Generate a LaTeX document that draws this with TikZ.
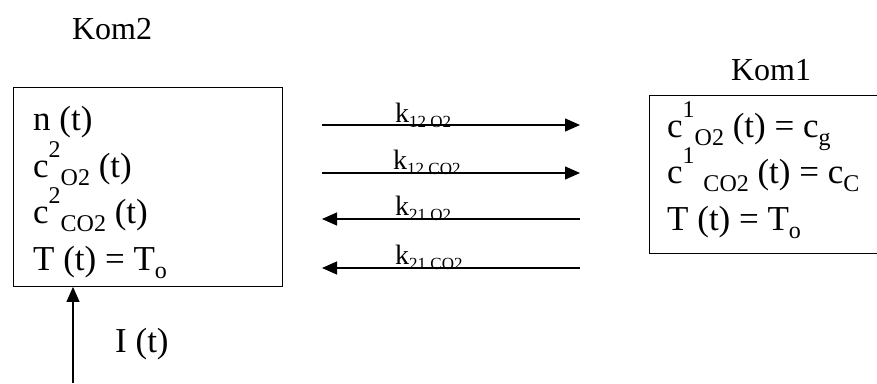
\documentclass[tikz,border=0pt]{standalone}
\usepackage{fontspec}
\setmainfont{Liberation Serif}
\usetikzlibrary{arrows.meta}
\newcommand{\sps}[1]{\raisebox{0.55em}{\fontsize{24}{24}\selectfont #1}}
\newcommand{\sbs}[1]{\raisebox{-0.25em}{\fontsize{24}{24}\selectfont #1}}
\newcommand{\ksub}[1]{\raisebox{-0.18em}{\fontsize{17}{17}\selectfont #1}}
\begin{document}
\begin{tikzpicture}[x=1pt,y=-1pt,
  box/.style={draw,line width=0.9pt},
  txt/.style={anchor=base west,inner sep=0pt,font=\fontsize{35}{35}\selectfont},
  klab/.style={anchor=base west,inner sep=0pt,font=\fontsize{28}{28}\selectfont},
  arr/.style={line width=1.2pt,-{Triangle[length=15pt,width=13pt]}}]
\useasboundingbox (0,0) rectangle (877,383);
% boxes
\node[box,minimum width=269pt,minimum height=199pt,anchor=north west,inner sep=0pt] (k2) at (13,87) {};
\node[box,minimum width=228pt,minimum height=158pt,anchor=north west,inner sep=0pt] (k1) at (649,95) {};
% titles
\node[anchor=base,inner sep=0pt,font=\fontsize{32}{32}\selectfont] (t2) at (112,39) {Kom2};
\node[anchor=base,inner sep=0pt,font=\fontsize{32}{32}\selectfont] (t1) at (771,80) {Kom1};
% left text
\node[txt] (a1) at (33,130) {n (t)};
\node[txt] (a2) at (33,177) {c\sps{2}\sbs{O2} (t)};
\node[txt] (a3) at (33,223) {c\sps{2}\sbs{CO2} (t)};
\node[txt] (a4) at (33,270) {T (t) = T\sbs{o}};
% right text
\node[txt] (b1) at (667,137) {c\sps{1}\sbs{O2} (t) = c\sbs{g}};
\node[txt] (b2) at (667,183) {c\sps{1} \sbs{CO2} (t) = c\sbs{C}};
\node[txt] (b3) at (667,230) {T (t) = T\sbs{o}};
% arrows
\coordinate (l1) at (322,125); \coordinate (r1) at (580,125);
\coordinate (l2) at (322,173); \coordinate (r2) at (580,173);
\coordinate (l3) at (322,219); \coordinate (r3) at (580,219);
\coordinate (l4) at (322,268); \coordinate (r4) at (580,268);
\draw[arr] (l1) -- (r1);
\draw[arr] (l2) -- (r2);
\draw[arr] (r3) -- (l3);
\draw[arr] (r4) -- (l4);
\node[klab] (k12o) at (395,122) {k\ksub{12 O2}};
\node[klab] (k12c) at (393,169) {k\ksub{12 CO2}};
\node[klab] (k21o) at (395,215) {k\ksub{21 O2}};
\node[klab] (k21c) at (395,264) {k\ksub{21 CO2}};
% input
\coordinate (in) at (73,383);
\draw[arr] (in) -- (k2.south west -| in);
\node[txt] (it) at (115,352) {I (t)};
\end{tikzpicture}
\end{document}
